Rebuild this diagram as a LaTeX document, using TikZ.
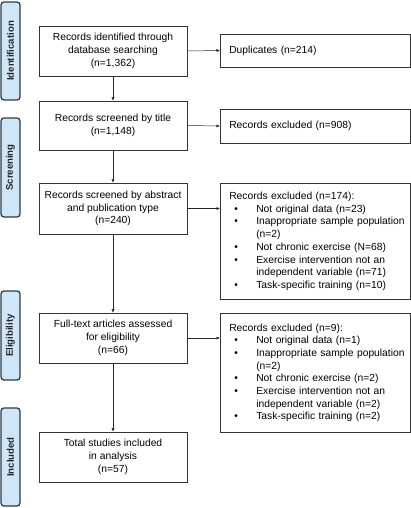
\documentclass[tikz,border=0pt]{standalone}
\usepackage{fontspec}
\setmainfont{Liberation Sans}
\usetikzlibrary{arrows.meta}
\definecolor{sidefill}{HTML}{CFE6F8}
\definecolor{sidedraw}{HTML}{2E3A46}
\newcommand\bitem[1]{\makebox[31pt][l]{\hspace{9pt}\textbullet}#1}
\newcommand\bcont[1]{\makebox[31pt][l]{}#1}
\begin{document}
\begin{tikzpicture}[x=1pt,y=-1pt,
  mainbox/.style={draw=black!80,line width=0.6pt,fill=white,minimum width=148pt,inner sep=0pt,align=center,font=\fontsize{10.3}{12.7}\selectfont},
  sidebox/.style={draw=black!80,line width=0.6pt,fill=white,minimum width=190pt,inner xsep=5pt,inner ysep=0pt,text width=180pt,align=left,font=\fontsize{10.3}{12.7}\selectfont},
  phase/.style={draw=sidedraw,line width=1.3pt,fill=sidefill,rounded corners=3pt,minimum width=19pt,inner sep=0pt},
  phasetext/.style={rotate=90,font=\fontsize{9.6}{10}\selectfont\bfseries,text=black!85},
  arr/.style={-{Latex[length=3.5pt,width=3pt]},line width=0.5pt,black!85}]
\useasboundingbox (0,0) rectangle (411,508);
% phase labels
\node[phase,minimum height=98pt] (pid) at (10.5,51) {};
\node[phasetext] (pidt) at (pid.center) {Identification};
\node[phase,minimum height=99pt] (psc) at (10.5,167.5) {};
\node[phasetext] (psct) at (psc.center) {Screening};
\node[phase,minimum height=89pt] (pel) at (10.5,335.5) {};
\node[phasetext] (pelt) at (pel.center) {Eligibility};
\node[phase,minimum height=98pt] (pin) at (10.5,457) {};
\node[phasetext] (pint) at (pin.center) {Included};
% main boxes
\node[mainbox,minimum height=50pt] (b1) at (113,51) {Records identified through\\database searching\\(n=1,362)};
\node[mainbox,minimum height=49pt] (b2) at (113,125.5) {Records screened by title\\(n=1,148)};
\node[mainbox,minimum height=51pt] (b3) at (113,208.5) {Records screened by abstract\\and publication type\\(n=240)};
\node[mainbox,minimum height=50pt] (b4) at (113,338) {Full-text articles assessed\\for eligibility\\(n=66)};
\node[mainbox,minimum height=50pt] (b5) at (113,457) {Total studies included\\in analysis\\(n=57)};
% side boxes
\node[sidebox,minimum height=33pt,anchor=west] (r1) at (220,50.5) {\hspace*{4pt}Duplicates (n=214)};
\node[sidebox,minimum height=34pt,anchor=west] (r2) at (220,126) {\hspace*{4pt}Records excluded (n=908)};
\node[sidebox,minimum height=116pt,anchor=north west] (r3) at (220,183) {\hspace*{4pt}Records excluded (n=174):\\
\bitem{Not original data (n=23)}\\
\bitem{Inappropriate sample population}\\
\bcont{(n=2)}\\
\bitem{Not chronic exercise (N=68)}\\
\bitem{Exercise intervention not an}\\
\bcont{independent variable (n=71)}\\
\bitem{Task-specific training (n=10)}};
\node[sidebox,minimum height=119pt,anchor=north west] (r4) at (220,313) {\hspace*{4pt}Records excluded (n=9):\\
\bitem{Not original data (n=1)}\\
\bitem{Inappropriate sample population}\\
\bcont{(n=2)}\\
\bitem{Not chronic exercise (n=2)}\\
\bitem{Exercise intervention not an}\\
\bcont{independent variable (n=2)}\\
\bitem{Task-specific training (n=2)}};
% arrows
\draw[arr] (b1) -- (b2);
\draw[arr] (b2) -- (b3);
\draw[arr] (b3) -- (b4);
\draw[arr] (b4) -- (b5);
\draw[arr] (b1.east) -- (r1.west);
\draw[arr] (b2.east) -- (r2.west);
\draw[arr] (b3.east) -- (b3.east -| r3.west);
\draw[arr] (b4.east) -- (b4.east -| r4.west);
\end{tikzpicture}
\end{document}
